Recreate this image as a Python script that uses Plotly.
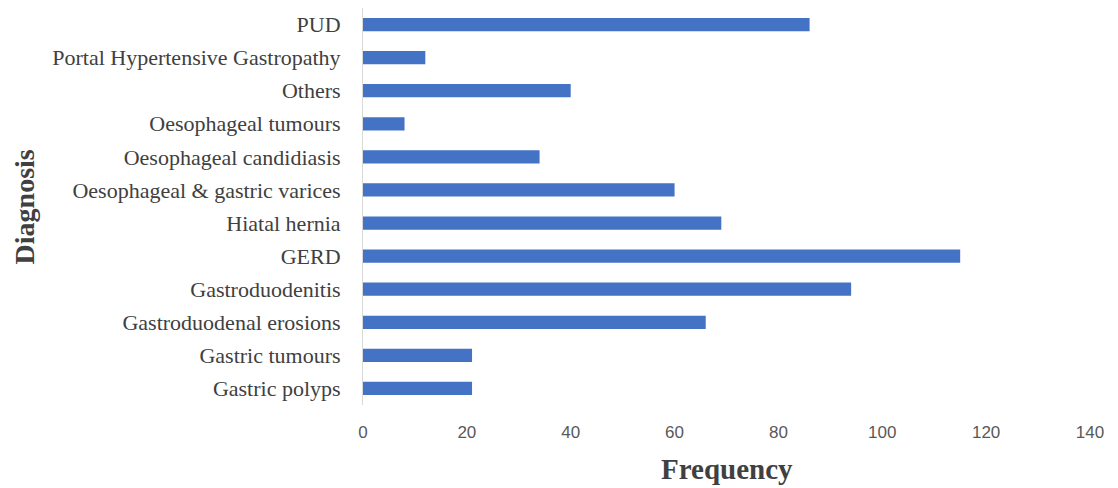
import plotly.graph_objects as go

categories = ["Gastric polyps", "Gastric tumours", "Gastroduodenal erosions", "Gastroduodenitis",
              "GERD", "Hiatal hernia", "Oesophageal & gastric varices", "Oesophageal candidiasis",
              "Oesophageal tumours", "Others", "Portal Hypertensive Gastropathy", "PUD"]
values = [21, 21, 66, 94, 115, 69, 60, 34, 8, 40, 12, 86]
x_ticks = [0, 20, 40, 60, 80, 100, 120, 140]

fig = go.Figure(go.Bar(
    x=values, y=categories, orientation="h",
    marker=dict(color="#4472C4", line=dict(width=0)),
    width=0.4,
))

fig.update_layout(
    width=1118, height=488,
    margin=dict(l=363, r=28, t=8, b=83),
    paper_bgcolor="white", plot_bgcolor="white",
    showlegend=False,
    xaxis=dict(
        range=[0, 140], tickvals=x_ticks, showgrid=False, zeroline=False,
        showline=False,
        tickfont=dict(family="Liberation Sans Narrow, Arial Narrow, sans-serif", size=17, color="#595959"),
        ticklabelstandoff=15,
    ),
    yaxis=dict(
        type="category", categoryorder="array", categoryarray=categories,
        range=[-0.5, 11.5], showgrid=False, zeroline=False,
        showline=True, linecolor="#D9D9D9", linewidth=1,
        tickfont=dict(family="Liberation Serif, Times New Roman, serif", size=22, color="#404040"),
        ticklabelstandoff=17,
    ),
    annotations=[
        dict(text="<b>Frequency</b>", xref="paper", yref="paper", x=0.5, y=-0.16,
             xanchor="center", yanchor="middle", showarrow=False,
             font=dict(family="Liberation Serif, Times New Roman, serif", size=29, color="#404040")),
        dict(text="<b>Diagnosis</b>", xref="paper", yref="paper", x=-0.465, y=0.5,
             xanchor="center", yanchor="middle", showarrow=False, textangle=-90,
             font=dict(family="Liberation Serif, Times New Roman, serif", size=28, color="#404040")),
    ],
)

fig.write_html("out.html")
